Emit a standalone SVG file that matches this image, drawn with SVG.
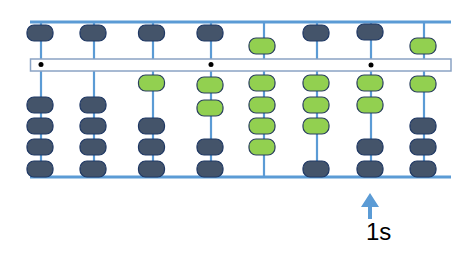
<svg xmlns="http://www.w3.org/2000/svg" width="474" height="259" viewBox="0 0 474 259">
<style>
.rail{stroke:#5b9bd5;stroke-width:3;fill:none}
.rod{stroke:#5b9bd5;stroke-width:2.2;fill:none}
.beam{fill:#ffffff;stroke:#8aa3c4;stroke-width:1.5}
.d{fill:#44546a;stroke:#1f3864;stroke-width:1.2}
.g{fill:#92d050;stroke:#2a3f5f;stroke-width:1.2}
.dot{fill:#000}
</style>
<defs>
<rect id="bd" x="-13" y="-8" width="26" height="16" rx="7" class="d"/>
<rect id="bg" x="-13" y="-8" width="26" height="16" rx="7" class="g"/>
</defs>
<g id="frame">
<line class="rail" x1="30" y1="22" x2="451" y2="22"/>
<line class="rail" x1="30" y1="177" x2="451" y2="177"/>
</g>
<g id="rods">
<line class="rod" x1="41" y1="22" x2="41" y2="177"/>
<line class="rod" x1="94" y1="22" x2="94" y2="177"/>
<line class="rod" x1="153" y1="22" x2="153" y2="177"/>
<line class="rod" x1="211" y1="22" x2="211" y2="177"/>
<line class="rod" x1="264" y1="22" x2="264" y2="177"/>
<line class="rod" x1="317" y1="22" x2="317" y2="177"/>
<line class="rod" x1="371" y1="22" x2="371" y2="177"/>
<line class="rod" x1="424" y1="22" x2="424" y2="177"/>
</g>
<g id="beam">
<rect class="beam" x="30.5" y="59" width="420.5" height="12"/>
<circle class="dot" cx="41" cy="64.5" r="2.5"/>
<circle class="dot" cx="211" cy="64.5" r="2.5"/>
<circle class="dot" cx="371" cy="65" r="2.5"/>
</g>
<g id="col1">
<use href="#bd" x="40" y="33"/>
<use href="#bd" x="40" y="105"/>
<use href="#bd" x="40" y="126"/>
<use href="#bd" x="40" y="147"/>
<use href="#bd" x="40" y="169"/>
</g>
<g id="col2">
<use href="#bd" x="93" y="33"/>
<use href="#bd" x="93" y="105"/>
<use href="#bd" x="93" y="126"/>
<use href="#bd" x="93" y="147"/>
<use href="#bd" x="93" y="169"/>
</g>
<g id="col3">
<use href="#bd" x="151.5" y="33"/>
<use href="#bg" x="151.5" y="83"/>
<use href="#bd" x="151.5" y="126"/>
<use href="#bd" x="151.5" y="147"/>
<use href="#bd" x="151.5" y="169"/>
</g>
<g id="col4">
<use href="#bd" x="210" y="33"/>
<use href="#bg" x="210" y="85"/>
<use href="#bg" x="210" y="108"/>
<use href="#bd" x="210" y="147"/>
<use href="#bd" x="210" y="169"/>
</g>
<g id="col5">
<use href="#bg" x="262" y="46"/>
<use href="#bg" x="262" y="83"/>
<use href="#bg" x="262" y="105"/>
<use href="#bg" x="262" y="126"/>
<use href="#bg" x="262" y="147"/>
</g>
<g id="col6">
<use href="#bd" x="316" y="33"/>
<use href="#bg" x="316" y="83"/>
<use href="#bg" x="316" y="105"/>
<use href="#bg" x="316" y="126"/>
<use href="#bd" x="316" y="169"/>
</g>
<g id="col7">
<use href="#bd" x="370" y="32"/>
<use href="#bg" x="370" y="83"/>
<use href="#bg" x="370" y="105"/>
<use href="#bd" x="370" y="147"/>
<use href="#bd" x="370" y="169"/>
</g>
<g id="col8">
<use href="#bg" x="423" y="46"/>
<use href="#bg" x="423" y="84"/>
<use href="#bd" x="423" y="126"/>
<use href="#bd" x="423" y="147"/>
<use href="#bd" x="423" y="169"/>
</g>
<g id="connectors">
<path d="M370 193 L379 207 L372 207 L372 219 L368 219 L368 207 L361 207 Z" fill="#5b9bd5"/>
</g>
<g id="label">
<text x="366" y="240" font-family="Liberation Sans, Arial, sans-serif" font-size="24" fill="#000">1s</text>
</g>
</svg>
